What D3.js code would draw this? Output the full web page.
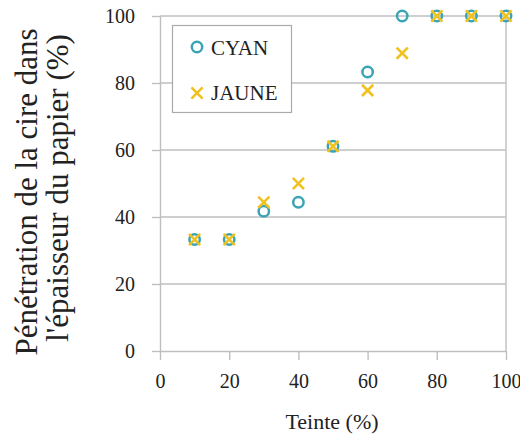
<!DOCTYPE html>
<html><head><meta charset="utf-8">
<script src="https://cdn.jsdelivr.net/npm/d3@7"></script>
</head><body style="margin:0;background:#fff"><svg id="c" width="520" height="436" style="font-family:'Liberation Serif',Tinos,'Times New Roman',serif"></svg>
<script>
const teinte = [10,20,30,40,50,60,70,80,90,100];
const cyan = [33.3,33.3,41.7,44.4,61.1,83.3,100,100,100,100];
const jaune = [33.3,33.3,44.4,50,61.1,77.8,88.9,100,100,100];
const xTicks = [0,20,40,60,80,100];
const yTicks = [0,20,40,60,80,100];
const seriesNames = ["CYAN","JAUNE"];
const xTitle = "Teinte (%)";
const yTitle = ["Pénétration de la cire dans","l'épaisseur du papier (%)"];

const FONT = "'Liberation Serif', Tinos, 'Times New Roman', serif";
const svg = d3.select("#c");
const x = d3.scaleLinear().domain([0,100]).range([160,506]);
const y = d3.scaleLinear().domain([0,100]).range([351,16]);
const grid = "#bfbfbf";

svg.append("g").selectAll("line").data(yTicks.filter(d=>d>0)).join("line")
  .attr("x1",x(0)).attr("x2",x(100)).attr("y1",d=>y(d)).attr("y2",d=>y(d))
  .attr("stroke",grid).attr("stroke-width",1.4);
svg.append("line").attr("x1",x(100)).attr("x2",x(100)).attr("y1",y(100)).attr("y2",y(0))
  .attr("stroke",grid).attr("stroke-width",1.4);

const xAxis = svg.append("g").attr("transform",`translate(0,${y(0)})`)
  .call(d3.axisBottom(x).tickValues(xTicks).tickSize(9).tickPadding(14).tickSizeOuter(0));
const yAxis = svg.append("g").attr("transform",`translate(${x(0)},0)`)
  .call(d3.axisLeft(y).tickValues(yTicks).tickSize(8).tickPadding(17).tickSizeOuter(0));
[xAxis,yAxis].forEach(a=>{
  a.attr("font-family",FONT).attr("font-size",20).style("font-family",FONT);
  a.selectAll("path,line").attr("stroke",grid).attr("stroke-width",1.4);
  a.selectAll("text").style("font-family",FONT).attr("font-size",20).attr("fill","#222");
});

svg.append("text").attr("x",332).attr("y",429).attr("text-anchor","middle")
  .style("font-family",FONT).attr("font-size",22).attr("fill","#222").text(xTitle);
const ytLines = [{t:yTitle[0], bx:37, cy:192},{t:yTitle[1], bx:68, cy:188}];
ytLines.forEach(l=>{
  svg.append("text").attr("transform",`translate(${l.bx},${l.cy}) rotate(-90)`)
    .attr("text-anchor","middle").style("font-family",FONT).attr("font-size",31).attr("fill","#222").text(l.t);
});

const cyanCol = "#3ba4b4", jauneCol = "#f1c11f";
function cross(g, cx, cy, s){
  g.append("path").attr("d",`M${cx-s},${cy-s}L${cx+s},${cy+s}M${cx-s},${cy+s}L${cx+s},${cy-s}`)
    .attr("stroke",jauneCol).attr("stroke-width",2.6).attr("fill","none");
}
const pts = svg.append("g");
pts.selectAll("circle").data(teinte.map((t,i)=>[t,cyan[i]])).join("circle")
  .attr("cx",d=>x(d[0])).attr("cy",d=>y(d[1])).attr("r",5.2)
  .attr("fill","none").attr("stroke",cyanCol).attr("stroke-width",2.5);
teinte.forEach((t,i)=>cross(pts, x(t), y(jaune[i]), 5.6));

const lg = svg.append("g");
lg.append("rect").attr("x",172.5).attr("y",25.5).attr("width",119).attr("height",87)
  .attr("fill","#fff").attr("stroke","#aaa").attr("stroke-width",1.2);
lg.append("circle").attr("cx",197).attr("cy",47).attr("r",5.2).attr("fill","none").attr("stroke",cyanCol).attr("stroke-width",2.5);
cross(lg,197,93,5.6);
svg.append("text").attr("x",211).attr("y",55).style("font-family",FONT).attr("font-size",21).attr("fill","#222").text(seriesNames[0]);
svg.append("text").attr("x",211).attr("y",100).style("font-family",FONT).attr("font-size",21).attr("fill","#222").text(seriesNames[1]);
</script></body></html>
